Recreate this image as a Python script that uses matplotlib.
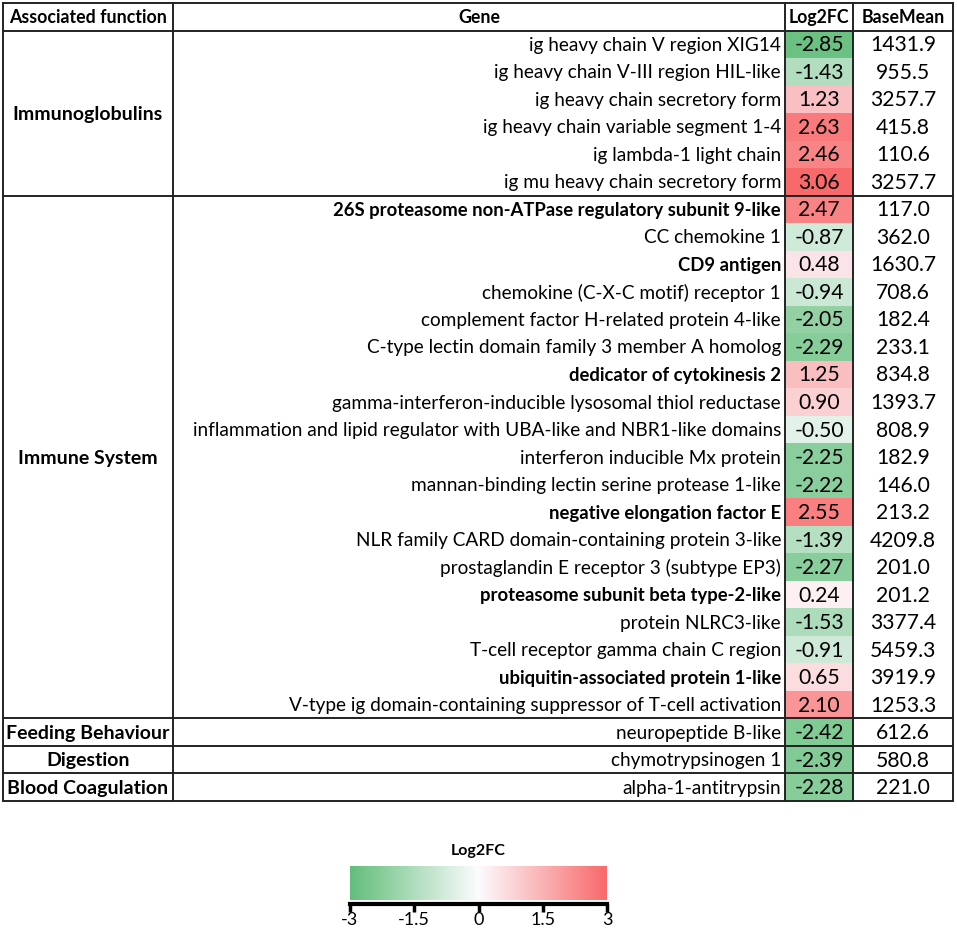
import numpy as np
import matplotlib
matplotlib.use("Agg")
import matplotlib.pyplot as plt
from matplotlib.colors import LinearSegmentedColormap, Normalize

# ── Data ─────────────────────────────────────────────────────────────────────

FUNCTIONS = ["Immunoglobulins", "Immune System", "Feeding Behaviour",
             "Digestion", "Blood Coagulation"]
GROUP_SIZES = [6, 19, 1, 1, 1]

GENES = [
    "ig heavy chain V region XIG14",
    "ig heavy chain V-III region HIL-like",
    "ig heavy chain secretory form",
    "ig heavy chain variable segment 1-4",
    "ig lambda-1 light chain",
    "ig mu heavy chain secretory form",
    "26S proteasome non-ATPase regulatory subunit 9-like",
    "CC chemokine 1",
    "CD9 antigen",
    "chemokine (C-X-C motif) receptor 1",
    "complement factor H-related protein 4-like",
    "C-type lectin domain family 3 member A homolog",
    "dedicator of cytokinesis 2",
    "gamma-interferon-inducible lysosomal thiol reductase",
    "inflammation and lipid regulator with UBA-like and NBR1-like domains",
    "interferon inducible Mx protein",
    "mannan-binding lectin serine protease 1-like",
    "negative elongation factor E",
    "NLR family CARD domain-containing protein 3-like",
    "prostaglandin E receptor 3 (subtype EP3)",
    "proteasome subunit beta type-2-like",
    "protein NLRC3-like",
    "T-cell receptor gamma chain C region",
    "ubiquitin-associated protein 1-like",
    "V-type ig domain-containing suppressor of T-cell activation",
    "neuropeptide B-like",
    "chymotrypsinogen 1",
    "alpha-1-antitrypsin",
]

LOG2FC = [-2.85, -1.43, 1.23, 2.63, 2.46, 3.06,
          2.47, -0.87, 0.48, -0.94, -2.05, -2.29, 1.25, 0.90, -0.50,
          -2.25, -2.22, 2.55, -1.39, -2.27, 0.24, -1.53, -0.91, 0.65, 2.10,
          -2.42, -2.39, -2.28]

BASE_MEAN = [1431.9, 955.5, 3257.7, 415.8, 110.6, 3257.7,
             117.0, 362.0, 1630.7, 708.6, 182.4, 233.1, 834.8, 1393.7, 808.9,
             182.9, 146.0, 213.2, 4209.8, 201.0, 201.2, 3377.4, 5459.3, 3919.9,
             1253.3, 612.6, 580.8, 221.0]

BOLD_GENES = {
    "26S proteasome non-ATPase regulatory subunit 9-like",
    "CD9 antigen",
    "dedicator of cytokinesis 2",
    "negative elongation factor E",
    "proteasome subunit beta type-2-like",
    "ubiquitin-associated protein 1-like",
}

HEADERS = ["Associated function", "Gene", "Log2FC", "BaseMean"]
CBAR_TICKS = [-3, -1.5, 0, 1.5, 3]
CBAR_LABELS = ["-3", "-1.5", "0", "1.5", "3"]

# ── Layout (pixels) ──────────────────────────────────────────────────────────

W, H = 957, 934
COL_EDGES = [3, 173, 785, 853, 953]
TOP, BOTTOM = 3, 801
N_ROWS = 1 + len(GENES)
ROW_H = (BOTTOM - TOP) / N_ROWS

FS_GENE = 13.7
FS_GENE_BOLD = 13.3
FS_HEAD = 12.8
FS_GROUP = 14.0
FS_VAL = 15.2

plt.rcParams["font.family"] = ["Lato", "DejaVu Sans"]

cmap = LinearSegmentedColormap.from_list("excel", ["#63BE7B", "#FCFCFF", "#F8696B"])
norm = Normalize(vmin=-3, vmax=3, clip=True)

fig = plt.figure(figsize=(W / 100, H / 100), dpi=100)
ax = fig.add_axes([0, 0, 1, 1])
ax.set_xlim(0, W)
ax.set_ylim(H, 0)
ax.axis("off")

row_edges = TOP + ROW_H * np.arange(N_ROWS + 1)
gene_edges = row_edges[1:]

# Log2FC colored cells
vals = np.array(LOG2FC).reshape(-1, 1)
ax.pcolormesh([COL_EDGES[2], COL_EDGES[3]], gene_edges, vals,
              cmap=cmap, norm=norm, shading="flat", zorder=1)

# header text
for k, h in enumerate(HEADERS):
    xc = (COL_EDGES[k] + COL_EDGES[k + 1]) / 2
    ax.text(xc, (row_edges[0] + row_edges[1]) / 2 + 1, h, ha="center", va="center",
            fontsize=FS_HEAD, fontweight="bold", zorder=3)

# body text
for i, (g, v, b) in enumerate(zip(GENES, LOG2FC, BASE_MEAN)):
    yc = (gene_edges[i] + gene_edges[i + 1]) / 2 + 1
    bold = g in BOLD_GENES
    ax.text(COL_EDGES[2] - 4, yc, g, ha="right", va="center",
            fontsize=FS_GENE_BOLD if bold else FS_GENE,
            fontweight="bold" if bold else "normal", zorder=3)
    ax.text((COL_EDGES[2] + COL_EDGES[3]) / 2, yc, f"{v:.2f}", ha="center",
            va="center", fontsize=FS_VAL, zorder=3)
    ax.text((COL_EDGES[3] + COL_EDGES[4]) / 2, yc, f"{b:.1f}", ha="center",
            va="center", fontsize=FS_VAL, zorder=3)

# function groups + section lines
lw = 1.4
start = 0
section_lines = [row_edges[0], row_edges[1]]
for name, n in zip(FUNCTIONS, GROUP_SIZES):
    y0, y1 = gene_edges[start], gene_edges[start + n]
    ax.text((COL_EDGES[0] + COL_EDGES[1]) / 2, (y0 + y1) / 2 + 1, name,
            ha="center", va="center", fontsize=FS_GROUP, fontweight="bold", zorder=3)
    section_lines.append(y1)
    start += n

for y in section_lines:
    ax.plot([COL_EDGES[0], COL_EDGES[-1]], [y, y], color="#222222", lw=lw, zorder=4)
for x in COL_EDGES:
    ax.plot([x, x], [TOP, BOTTOM], color="#222222", lw=lw, zorder=4)

# ── Legend colorbar ──────────────────────────────────────────────────────────

cx0, cx1, cy0, cy1 = 350, 607, 866, 904
cax = fig.add_axes([cx0 / W, 1 - cy1 / H, (cx1 - cx0) / W, (cy1 - cy0) / H])
grad = np.linspace(-3, 3, 512)[None, :]
cax.imshow(grad, extent=[-3, 3, 0.1, 1], aspect="auto", cmap=cmap, norm=norm)
cax.set_xlim(-3, 3)
cax.set_ylim(0, 1)
for s in ["top", "left", "right"]:
    cax.spines[s].set_visible(False)
cax.spines["bottom"].set_linewidth(3)
cax.set_yticks([])
cax.set_xticks(CBAR_TICKS, CBAR_LABELS)
cax.tick_params(axis="x", direction="out", length=6, width=2.5,
                labelsize=13, pad=0)
ax.text((cx0 + cx1) / 2, 851, "Log2FC", ha="center", va="center",
        fontsize=11.5, fontweight="bold")

fig.savefig("out.png", dpi=100)
